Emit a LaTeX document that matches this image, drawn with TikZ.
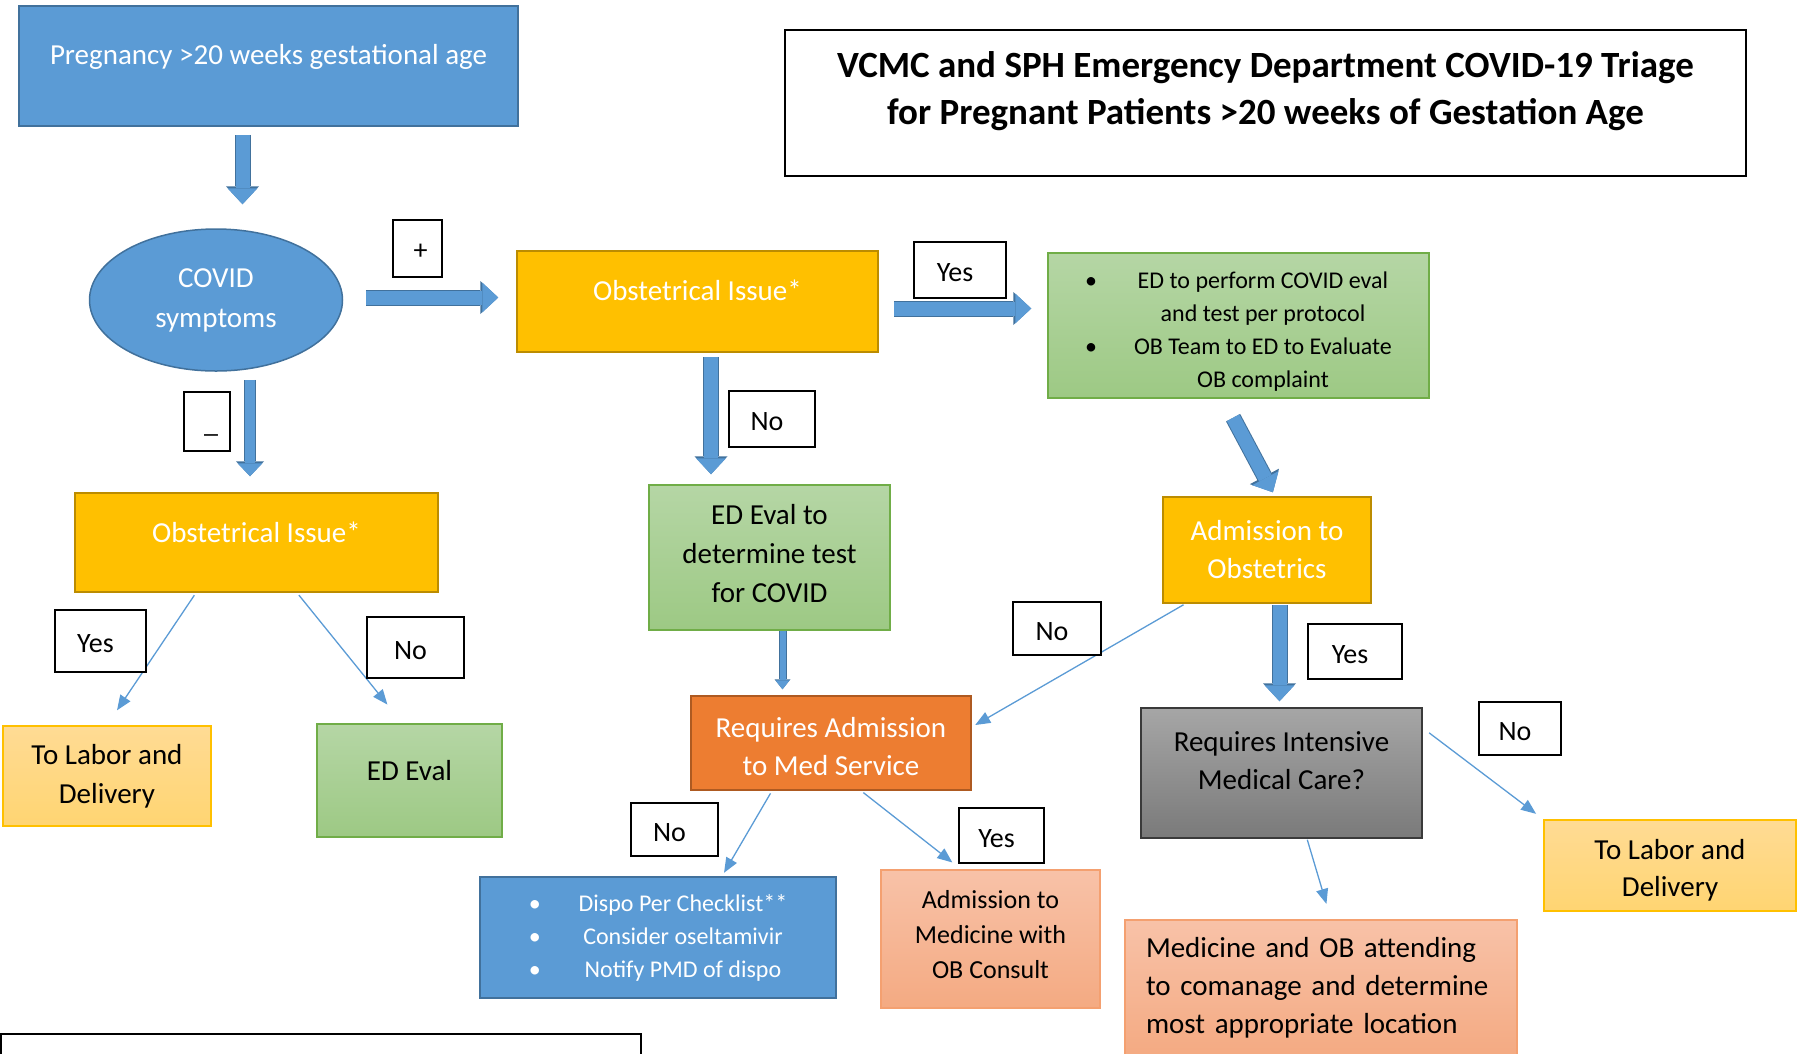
\documentclass[tikz,border=0pt]{standalone}
\usepackage{fontspec}
\setmainfont{Carlito}
\usepackage{xcolor}
\usepackage{tikz}
\usetikzlibrary{arrows.meta, positioning, shapes.geometric}

\definecolor{boxblue}{HTML}{5B9BD5}
\definecolor{boxblueedge}{HTML}{41719C}
\definecolor{boxgold}{HTML}{FFC000}
\definecolor{boxgoldedge}{HTML}{BC8C00}
\definecolor{greentop}{HTML}{B5D6A5}
\definecolor{greenbot}{HTML}{9DC984}
\definecolor{greenedge}{HTML}{70AD47}
\definecolor{labortop}{HTML}{FFDB94}
\definecolor{laborbot}{HTML}{FFD572}
\definecolor{laboredge}{HTML}{FFC000}
\definecolor{boxorange}{HTML}{ED7D31}
\definecolor{boxorangeedge}{HTML}{AE5A21}
\definecolor{peachtop}{HTML}{F8C2A8}
\definecolor{peachbot}{HTML}{F4AA82}
\definecolor{peachedge}{HTML}{F4A070}
\definecolor{graytop}{HTML}{A6A6A6}
\definecolor{graybot}{HTML}{7A7A7A}
\definecolor{grayedge}{HTML}{3A3A3A}

% text block raised inside its box, box size unchanged
\newcommand{\lifted}[2]{\raisebox{#1}[\height][\depth]{\begin{tabular}{@{}c@{}}#2\end{tabular}}}

\begin{document}
\begin{tikzpicture}[
    x=1pt, y=-1pt,
    box/.style={draw, rectangle, line width=1.5pt, inner sep=0pt, align=center, font=\fontsize{29}{38}\selectfont},
    blue box/.style={box, fill=boxblue, draw=boxblueedge, text=white},
    gold box/.style={box, fill=boxgold, draw=boxgoldedge, text=white},
    green box/.style={box, top color=greentop, bottom color=greenbot, draw=greenedge},
    labor box/.style={box, top color=labortop, bottom color=laborbot, draw=laboredge},
    orange box/.style={box, fill=boxorange, draw=boxorangeedge, text=white},
    peach box/.style={box, top color=peachtop, bottom color=peachbot, draw=peachedge},
    gray box/.style={box, top color=graytop, bottom color=graybot, draw=grayedge},
    title box/.style={draw, rectangle, line width=2.5pt, inner sep=0pt, font=\fontsize{37}{47}\selectfont\bfseries},
    answer/.style={draw, rectangle, line width=1.8pt, fill=white, inner sep=0pt, font=\fontsize{28}{34}\selectfont},
    reply/.style={answer, text height=23pt, text depth=0pt, execute at end node=\hspace*{10pt}},
    block arrow/.style={draw=boxblue, line width=14pt, -{Triangle[length=16pt, width=30pt, line width=0pt]},
        preaction={draw=boxblueedge, line width=16pt, -{Triangle[length=18pt, width=33pt, line width=0pt]}}},
    slim arrow/.style={draw=boxblue, line width=10pt, -{Triangle[length=13pt, width=25pt, line width=0pt]},
        preaction={draw=boxblueedge, line width=12pt, -{Triangle[length=15pt, width=28pt, line width=0pt]}}},
    tiny arrow/.style={draw=boxblue, line width=6pt, -{Triangle[length=9pt, width=14pt, line width=0pt]},
        preaction={draw=boxblueedge, line width=8pt, -{Triangle[length=10pt, width=16pt, line width=0pt]}}},
    thin arrow/.style={draw=boxblue, line width=1.3pt, -{Triangle[length=15pt, width=12pt]}}
]
    \useasboundingbox (0,0) rectangle (1797,1053);

    % --- TITLE ---
    \node[title box, minimum width=961pt, minimum height=146pt] (title) at (1265.5,103)
        {\lifted{11pt}{VCMC and SPH Emergency Department COVID-19 Triage\\for Pregnant Patients >20 weeks of Gestation Age}};

    % --- ENTRY ---
    \node[blue box, minimum width=499pt, minimum height=120pt] (preg) at (268.5,66)
        {\lifted{9pt}{Pregnancy >20 weeks gestational age}};
    \node[ellipse, draw=boxblueedge, fill=boxblue, line width=1.5pt, text=white, inner sep=0pt, align=center,
        font=\fontsize{29}{40}\selectfont, minimum width=253pt, minimum height=142pt] (covid) at (216,300) {COVID\\symptoms};

    % --- COVID POSITIVE BRANCH ---
    \node[gold box, minimum width=361pt, minimum height=101pt] (obtop) at (697.5,301.5) {\lifted{9pt}{Obstetrical Issue*}};
    \node[green box, minimum width=381pt, minimum height=145pt, font=\fontsize{24}{32.7}\selectfont] (covideval) at (1238.5,325.5)
        {\lifted{-6pt}{\begin{tabular}{@{}c@{\hspace{37pt}}c@{}}\textbullet & ED to perform COVID eval\\ & and test per protocol\\ \textbullet & OB Team to ED to Evaluate\\ & OB complaint\end{tabular}}};
    \node[green box, minimum width=241pt, minimum height=145pt, font=\fontsize{29}{39}\selectfont] (edtest) at (769.5,557.5)
        {\lifted{2pt}{ED Eval to\\determine test\\for COVID}};
    \node[gold box, minimum width=208pt, minimum height=106pt] (admob) at (1267,550) {Admission to\\Obstetrics};
    \node[orange box, minimum width=280pt, minimum height=94pt] (reqadm) at (831,743)
        {\lifted{-6pt}{Requires Admission\\to Med Service}};
    \node[gray box, minimum width=281pt, minimum height=130pt] (intensive) at (1281.5,773)
        {\lifted{10pt}{Requires Intensive\\Medical Care?}};
    \node[blue box, minimum width=356pt, minimum height=121pt, font=\fontsize{24}{33}\selectfont] (dispo) at (658,937.5)
        {\begin{tabular}{@{}c@{\hspace{38pt}}c@{}}\textbullet & Dispo Per Checklist**\\ \textbullet & Consider oseltamivir\\ \textbullet & Notify PMD of dispo\end{tabular}};
    \node[peach box, minimum width=219pt, minimum height=138pt, font=\fontsize{26}{35}\selectfont] (admmed) at (990.5,939)
        {\lifted{3pt}{Admission to\\Medicine with\\OB Consult}};
    \node[peach box, minimum width=392pt, minimum height=136pt, text width=350pt, align=left] (comanage) at (1321,988)
        {Medicine and OB attending\\to comanage and determine\\most appropriate location};
    \node[labor box, minimum width=252pt, minimum height=91pt, font=\fontsize{29}{37}\selectfont] (labortwo) at (1670,865.5)
        {\lifted{-5pt}{To Labor and\\Delivery}};

    % --- COVID NEGATIVE BRANCH ---
    \node[gold box, minimum width=363pt, minimum height=99pt] (oblow) at (256.5,542.5) {\lifted{8pt}{Obstetrical Issue*}};
    \node[labor box, minimum width=208pt, minimum height=100pt, font=\fontsize{29}{39}\selectfont] (laborone) at (107,776) {To Labor and\\Delivery};
    \node[green box, minimum width=185pt, minimum height=113pt] (edeval) at (409.5,780.5) {\lifted{8pt}{ED Eval}};

    % --- BLOCK ARROWS ---
    \draw[block arrow, shorten <=8pt, shorten >=24pt] ([xshift=-26pt]preg.south) -- ([xshift=26.5pt]covid.north);
    \draw[block arrow, shorten <=22.5pt, shorten >=18pt] ([yshift=2.5pt]covid.east) -- ([yshift=4pt]obtop.west);
    \draw[slim arrow, shorten <=8pt, shorten >=16pt] ([xshift=34pt]covid.south) -- ([xshift=-6.5pt]oblow.north);
    \draw[block arrow, shorten <=15pt, shorten >=16pt] ([yshift=-7pt]obtop.east) -- ([yshift=17pt]covideval.west);
    \draw[block arrow, shorten <=4pt, shorten >=10pt] ([xshift=13.5pt]obtop.south) -- ([xshift=-58.5pt]edtest.north);
    \draw[block arrow, shorten <=21.5pt, shorten >=4.5pt] ([xshift=-15.5pt]covideval.south) -- ([xshift=8pt]admob.north);
    \draw[block arrow, shorten <=1pt, shorten >=6pt] ([xshift=12.5pt]admob.south) -- ([xshift=-2pt]intensive.north);
    \draw[tiny arrow, shorten >=6pt] ([xshift=13pt]edtest.south) -- ([xshift=-48.5pt]reqadm.north);

    % --- THIN ARROWS ---
    \draw[thin arrow, shorten <=3pt, shorten >=18pt] ([xshift=-60.5pt]oblow.south) -- (laborone.north);
    \draw[thin arrow, shorten <=3pt, shorten >=24pt] ([xshift=40.5pt]oblow.south) -- ([xshift=-7pt]edeval.north);
    \draw[thin arrow, shorten <=2pt, shorten >=4pt] ([xshift=23pt]admob.south west) -- ([yshift=16pt]reqadm.east);
    \draw[thin arrow, shorten <=3pt, shorten >=4pt] ([xshift=-59pt]reqadm.south) -- ([xshift=64pt]dispo.north);
    \draw[thin arrow, shorten <=3pt, shorten >=11pt] ([xshift=30pt]reqadm.south) -- ([xshift=-29.5pt]admmed.north);
    \draw[thin arrow, shorten <=8pt, shorten >=9pt] ([yshift=45pt]intensive.east) -- (labortwo.north west);
    \draw[thin arrow, shorten <=1pt, shorten >=16pt] ([xshift=25.5pt]intensive.south) -- ([xshift=10pt]comanage.north);

    % --- ANSWER LABELS ---
    \node[answer, minimum width=49pt, minimum height=57pt, text height=22pt, text depth=0pt,
        execute at begin node=\hspace*{6pt}] (plus) at (417.5,248.5) {+};
    \node[answer, minimum width=46pt, minimum height=59pt, text height=21pt, text depth=0pt,
        execute at begin node=\hspace*{8pt}] (minus) at (207,421.5) {\_};
    \node[reply, minimum width=92pt, minimum height=56pt] (yesob) at (960,270) {Yes};
    \node[reply, minimum width=86pt, minimum height=56pt] (noob) at (772,419) {No};
    \node[reply, minimum width=91pt, minimum height=62pt] (yeslow) at (100.5,641) {Yes};
    \node[reply, minimum width=97pt, minimum height=61pt] (nolow) at (415.5,647.5) {No};
    \node[reply, minimum width=88pt, minimum height=53pt] (noadm) at (1057,628.5) {No};
    \node[reply, minimum width=94pt, minimum height=55pt] (yesadm) at (1355,651.5) {Yes};
    \node[reply, minimum width=87pt, minimum height=53pt] (nomed) at (674.5,829.5) {No};
    \node[reply, minimum width=85pt, minimum height=55pt] (yesmed) at (1001.5,835.5) {Yes};
    \node[reply, minimum width=82pt, minimum height=53pt] (nolabor) at (1520,728.5) {No};

    % --- FOOTNOTE FRAME (cut off) ---
    \draw[line width=2.5pt] (1,1070) |- (641,1034) -- (641,1070);

\end{tikzpicture}
\end{document}
